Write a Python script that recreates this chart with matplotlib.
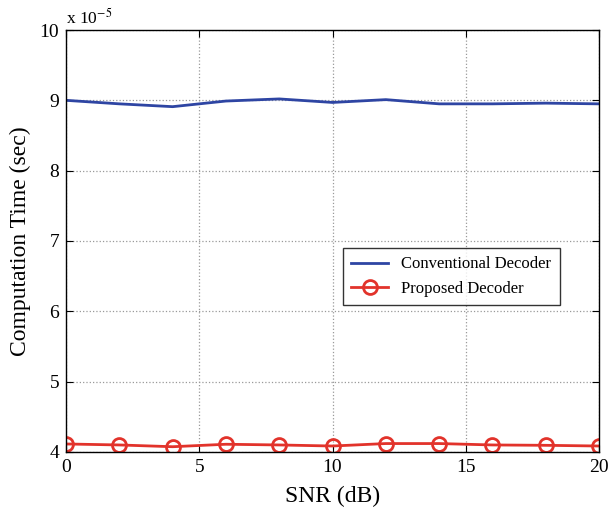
import matplotlib
matplotlib.use("Agg")
import matplotlib.pyplot as plt

snr = [0, 2, 4, 6, 8, 10, 12, 14, 16, 18, 20]
conventional = [9.00, 8.95, 8.91, 8.99, 9.02, 8.97, 9.01, 8.95, 8.95, 8.96, 8.95]
proposed = [4.114, 4.10, 4.075, 4.11, 4.10, 4.085, 4.12, 4.12, 4.10, 4.095, 4.085]
xticks = [0, 5, 10, 15, 20]
yticks = [4, 5, 6, 7, 8, 9, 10]

plt.rcParams['font.family'] = ['Liberation Serif', 'DejaVu Serif']
plt.rcParams['mathtext.fontset'] = 'stix'

fig = plt.figure(figsize=(6.09, 5.12), dpi=100)
ax = fig.add_axes([0.1084, 0.1172, 0.8752, 0.8242])

ax.plot(snr, conventional, color='#2e45a3', lw=2, label='Conventional Decoder')
ax.plot(snr, proposed, color='#e2332b', lw=2, marker='o', markersize=10,
        markerfacecolor='none', markeredgewidth=2, label='Proposed Decoder')

ax.set_xlim(0, 20)
ax.set_ylim(4, 10)
ax.set_xticks(xticks)
ax.set_yticks(yticks)
ax.tick_params(direction='in', top=True, right=True, labelsize=14, length=5, pad=5)
ax.grid(True, linestyle=':', color='#999999', linewidth=0.9)
for s in ax.spines.values():
    s.set_linewidth(1.0)

ax.set_xlabel('SNR (dB)', fontsize=17, labelpad=7)
ax.set_ylabel('Computation Time (sec)', fontsize=17, labelpad=6)
ax.text(0.0, 1.005, r'x 10$^{-5}$', transform=ax.transAxes, fontsize=12.5,
        ha='left', va='bottom')

leg = ax.legend(loc='upper left', bbox_to_anchor=(0.5197, 0.4834), fontsize=12,
                frameon=True, fancybox=False, edgecolor='black',
                borderaxespad=0, handlelength=2.2, borderpad=0.5)
leg.get_frame().set_linewidth(1.0)

fig.savefig('out.png', dpi=100)
